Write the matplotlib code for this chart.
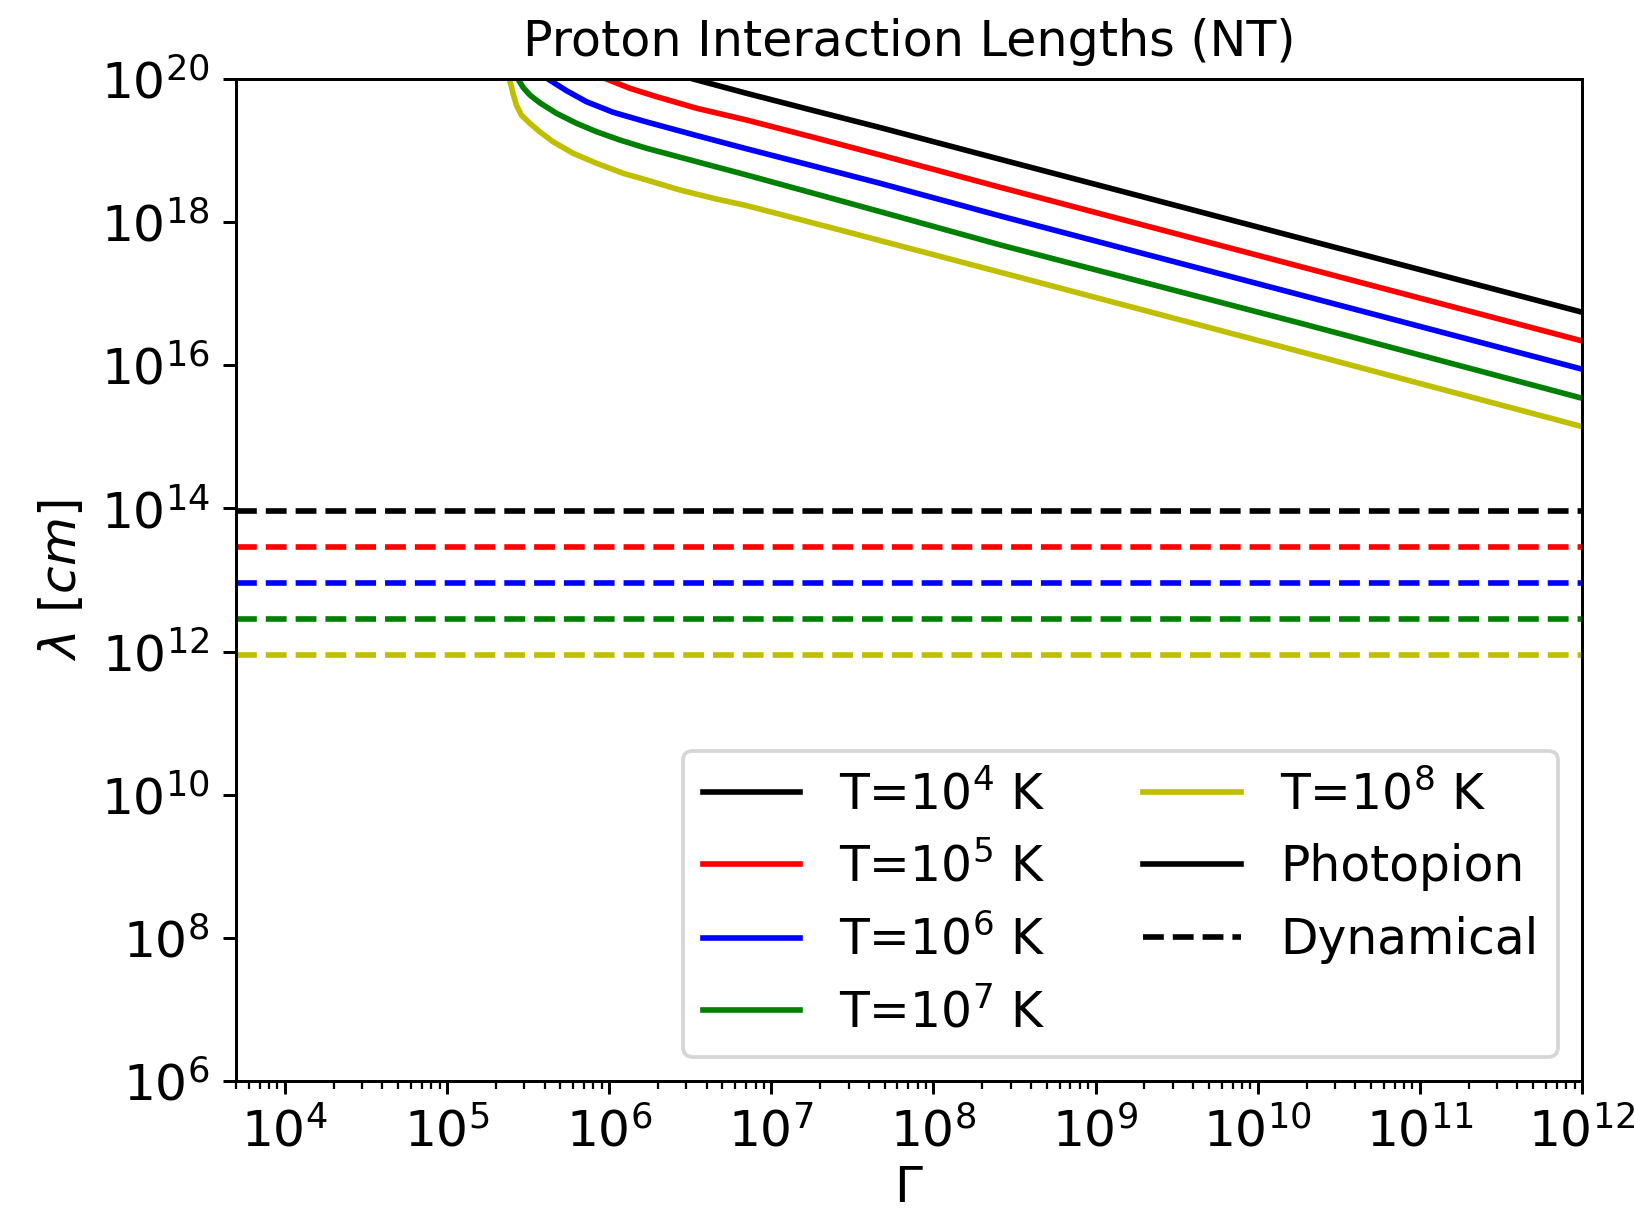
import numpy as np
import matplotlib
matplotlib.use("Agg")
import matplotlib.pyplot as plt
from matplotlib.lines import Line2D
from matplotlib.ticker import LogLocator, NullLocator, FixedLocator

# ---- data (log10 values) ----
temps_exp = [4, 5, 6, 7, 8]
colors = ['k', 'r', 'b', 'g', 'y']

# Photopion interaction lengths: log10(Gamma), log10(lambda [cm])
pp_logG_T4 = [6.519, 6.848, 7.259, 7.671, 8.412, 10.264, 12.0]
pp_logL_T4 = [20.0, 19.800, 19.560, 19.322, 18.878, 17.775, 16.742]

pp_logG_T5 = [5.984, 6.128, 6.293, 6.540, 6.848, 7.259, 7.671, 8.412, 10.264, 12.0]
pp_logL_T5 = [20.0, 19.870, 19.753, 19.591, 19.427, 19.186, 18.939, 18.487, 17.379, 16.341]

pp_logG_T6 = [5.623, 5.737, 5.860, 6.025, 6.231, 6.540, 6.848, 7.259, 7.671, 8.412, 10.264, 12.0]
pp_logL_T6 = [20.0, 19.837, 19.683, 19.535, 19.400, 19.210, 19.025, 18.785, 18.543, 18.087, 16.983, 15.946]

pp_logG_T7 = [5.438, 5.469, 5.511, 5.572, 5.675, 5.799, 5.922, 6.066, 6.231, 6.540,
              6.848, 7.259, 7.671, 8.412, 10.264, 12.0]
pp_logL_T7 = [20.0, 19.884, 19.777, 19.669, 19.521, 19.381, 19.264, 19.148, 19.032, 18.845,
              18.659, 18.404, 18.147, 17.682, 16.588, 15.540]

pp_logG_T8 = [5.383, 5.398, 5.407, 5.428, 5.459, 5.511, 5.572, 5.654, 5.778, 5.922, 6.086,
              6.231, 6.436, 6.642, 6.848, 7.054, 7.259, 7.465, 8.412, 10.264, 12.0]
pp_logL_T8 = [20.0, 19.893, 19.80, 19.637, 19.497, 19.381, 19.264, 19.124, 18.962, 18.823, 18.683,
              18.589, 18.450, 18.334, 18.231, 18.110, 17.988, 17.866, 17.30, 16.19, 15.144]

pp_logG = [pp_logG_T4, pp_logG_T5, pp_logG_T6, pp_logG_T7, pp_logG_T8]
pp_logL = [pp_logL_T4, pp_logL_T5, pp_logL_T6, pp_logL_T7, pp_logL_T8]

# Dynamical lengths (constant in Gamma)
dyn_lambda = [9.06e13, 2.88e13, 9.06e12, 2.87e12, 9.0e11]
gamma_range = [5e3, 1e12]

xticks = [1e4, 1e5, 1e6, 1e7, 1e8, 1e9, 1e10, 1e11, 1e12]
yticks = [1e6, 1e8, 1e10, 1e12, 1e14, 1e16, 1e18, 1e20]

# ---- figure ----
W, H, DPI = 1634, 1211, 270
fig = plt.figure(figsize=(W / DPI, H / DPI), dpi=DPI)
ax = fig.add_axes([236 / W, (H - 1081) / H, 1346 / W, 1002 / H])

FS = 13.4
for lg, ll, c in zip(pp_logG, pp_logL, colors):
    ax.plot(np.power(10.0, lg), np.power(10.0, ll), color=c, lw=1.5, ls='-')
for d, c in zip(dyn_lambda, colors):
    ax.plot(gamma_range, [d, d], color=c, lw=1.5, ls='--')

ax.set_xscale('log')
ax.set_yscale('log')
ax.set_xlim(gamma_range[0], gamma_range[1])
ax.set_ylim(1e6, 1e20)
ax.xaxis.set_major_locator(FixedLocator(xticks))
ax.xaxis.set_minor_locator(LogLocator(base=10, subs=np.arange(2, 10), numticks=100))
ax.yaxis.set_major_locator(FixedLocator(yticks))
ax.yaxis.set_minor_locator(NullLocator())
ax.tick_params(labelsize=FS)

ax.set_xlabel(r'$\Gamma$', fontsize=FS, labelpad=2)
ax.set_ylabel(r'$\lambda\ [cm]$', fontsize=FS)
ax.set_title('Proton Interaction Lengths (NT)', fontsize=13.1)

handles = [Line2D([], [], color=c, lw=1.5) for c in colors]
labels = [r'T=$10^{%d}$ K' % e for e in temps_exp]
handles += [Line2D([], [], color='k', lw=1.5, ls='-'),
            Line2D([], [], color='k', lw=1.5, ls='--')]
labels += ['Photopion', 'Dynamical']
ax.legend(handles, labels, loc='lower right', ncol=2, fontsize=13.0)

fig.savefig('out.png', dpi=DPI)
